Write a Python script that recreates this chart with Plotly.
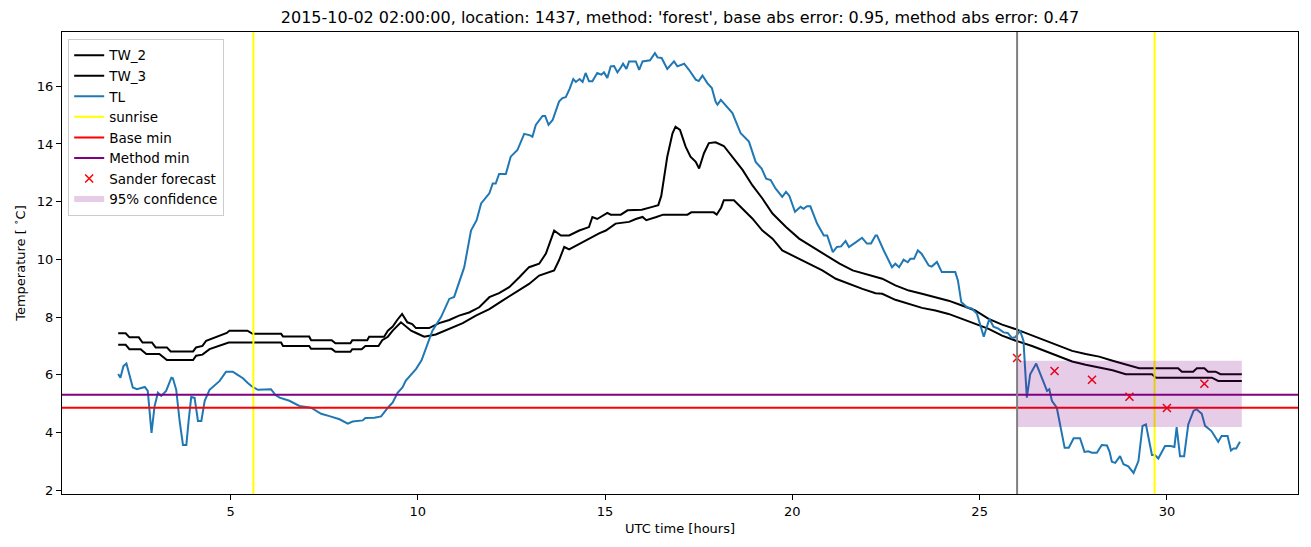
import plotly.graph_objects as go

# ---------------- data ----------------
TL_hours = [2.00, 2.06, 2.14, 2.22, 2.30, 2.39, 2.50, 2.62, 2.71, 2.79, 2.89, 2.97, 3.06, 3.15, 3.28, 3.42, 3.46, 3.55, 3.64, 3.73,
            3.82, 3.88, 3.95, 4.04, 4.13, 4.22, 4.31, 4.44, 4.58, 4.71, 4.88, 5.06, 5.19, 5.33, 5.46, 5.59, 5.73, 6.08, 6.20, 6.31,
            6.57, 6.84, 7.15, 7.42, 7.64, 7.91, 8.13, 8.26, 8.53, 8.60, 8.84, 9.02, 9.20, 9.33, 9.46, 9.59, 9.68, 9.85, 9.95, 10.10,
            10.22, 10.39, 10.62, 10.84, 10.97, 11.11, 11.24, 11.42, 11.57, 11.69, 11.91, 12.00, 12.08, 12.17, 12.35, 12.48, 12.66, 12.84, 13.00, 13.06,
            13.15, 13.33, 13.40, 13.49, 13.60, 13.77, 13.86, 13.95, 14.05, 14.15, 14.22, 14.32, 14.40, 14.48, 14.57, 14.66, 14.79, 14.90, 14.97, 15.06,
            15.15, 15.24, 15.33, 15.42, 15.48, 15.57, 15.64, 15.82, 15.91, 16.00, 16.20, 16.33, 16.40, 16.51, 16.66, 16.84, 16.93, 17.11, 17.24, 17.42,
            17.50, 17.60, 17.73, 17.85, 17.95, 18.00, 18.09, 18.40, 18.62, 18.84, 19.02, 19.18, 19.30, 19.42, 19.55, 19.73, 19.83, 19.92, 20.07, 20.22,
            20.30, 20.39, 20.48, 20.66, 20.84, 20.93, 21.08, 21.19, 21.30, 21.42, 21.51, 21.70, 21.86, 21.99, 22.10, 22.22, 22.26, 22.44, 22.66, 22.75,
            22.85, 22.97, 23.08, 23.15, 23.25, 23.35, 23.45, 23.64, 23.72, 23.86, 23.99, 24.35, 24.42, 24.51, 24.66, 24.80, 24.93, 25.11, 25.26, 25.37,
            25.50, 25.64, 25.75, 25.86, 25.95, 26.08, 26.17, 26.26, 26.35, 26.51, 26.66, 26.80, 26.86, 26.93, 27.06, 27.27, 27.38, 27.51, 27.68, 27.80,
            27.90, 28.00, 28.13, 28.26, 28.40, 28.47, 28.53, 28.62, 28.75, 28.84, 28.97, 29.11, 29.24, 29.35, 29.44, 29.60, 29.68, 29.77, 29.95, 30.10,
            30.20, 30.26, 30.35, 30.46, 30.57, 30.71, 30.79, 30.93, 31.02, 31.19, 31.37, 31.46, 31.62, 31.71, 31.78, 31.85, 31.95]
TL_values = [6.03, 5.90, 6.30, 6.39, 6.00, 5.56, 5.50, 5.56, 5.58, 5.44, 3.99, 4.90, 5.38, 5.27, 5.44, 5.90, 5.88, 5.48, 4.40, 3.57,
             3.57, 4.40, 5.23, 5.20, 4.40, 4.40, 5.10, 5.48, 5.65, 5.79, 6.11, 6.11, 6.00, 5.88, 5.72, 5.58, 5.48, 5.50, 5.30, 5.21,
             5.10, 4.92, 4.86, 4.65, 4.57, 4.46, 4.31, 4.38, 4.42, 4.50, 4.51, 4.56, 4.86, 5.04, 5.38, 5.56, 5.80, 6.05, 6.20, 6.50,
             6.95, 7.53, 8.00, 8.63, 8.70, 9.21, 9.73, 11.00, 11.36, 11.94, 12.29, 12.63, 12.63, 12.96, 12.96, 13.56, 13.79, 14.35, 14.30, 14.25,
             14.66, 14.97, 14.97, 14.66, 14.83, 15.47, 15.59, 15.62, 15.90, 16.25, 16.15, 16.25, 16.15, 16.46, 16.17, 16.17, 16.46, 16.40, 16.48, 16.29,
             16.69, 16.70, 16.48, 16.65, 16.78, 16.60, 16.86, 16.86, 16.57, 16.86, 16.90, 17.15, 17.00, 16.98, 16.60, 16.86, 16.69, 16.78, 16.57, 16.23,
             16.18, 16.37, 16.11, 15.94, 15.47, 15.36, 15.53, 15.07, 14.37, 14.08, 13.38, 13.15, 12.80, 12.75, 12.46, 12.17, 12.34, 12.20, 11.65, 11.82,
             11.75, 11.84, 11.84, 11.24, 10.83, 10.83, 10.25, 10.43, 10.45, 10.64, 10.43, 10.60, 10.75, 10.55, 10.55, 10.83, 10.83, 10.31, 9.73, 9.85,
             9.73, 9.99, 9.90, 10.02, 10.02, 10.31, 10.20, 9.79, 9.75, 9.91, 9.56, 9.56, 9.27, 8.52, 8.34, 8.29, 8.11, 7.32, 7.94, 7.67,
             7.60, 7.47, 7.45, 7.28, 7.30, 7.53, 7.18, 5.21, 6.02, 6.39, 5.90, 5.44, 5.50, 5.10, 4.86, 3.47, 3.47, 3.80, 3.80, 3.33,
             3.35, 3.30, 3.30, 3.57, 3.55, 3.33, 2.99, 2.95, 3.18, 2.90, 2.83, 2.60, 3.01, 4.23, 4.28, 3.22, 3.22, 3.10, 3.53, 3.53,
             3.50, 4.19, 3.18, 3.18, 4.28, 4.75, 4.81, 4.65, 4.23, 4.05, 3.68, 3.88, 3.88, 3.38, 3.45, 3.45, 3.68]

TW2_hours = [2.0, 2.2, 2.3, 2.55, 2.65, 2.9, 3.0, 3.3, 3.4, 4.0, 4.08, 4.25, 4.35, 4.5, 4.71, 4.9, 4.97, 5.45, 5.59, 6.35,
             6.4, 7.1, 7.15, 7.7, 7.8, 8.2, 8.25, 8.65, 8.7, 9.1, 9.2, 9.33, 9.45, 9.58, 9.72, 9.85, 9.95, 10.3, 10.57, 10.84,
             11.1, 11.37, 11.64, 11.91, 12.17, 12.44, 12.71, 12.97, 13.24, 13.42, 13.64, 13.82, 14.04, 14.31, 14.57, 14.66, 14.79, 15.06, 15.15, 15.42,
             15.6, 15.98, 16.26, 16.42, 16.5, 16.57, 16.66, 16.8, 16.88, 17.0, 17.15, 17.28, 17.42, 17.51, 17.64, 17.77, 17.95, 18.17, 18.4, 18.67,
             18.93, 19.2, 19.47, 19.83, 20.18, 20.54, 20.9, 21.26, 21.61, 21.97, 22.4, 22.75, 23.11, 23.46, 23.82, 24.17, 24.53, 24.88, 25.24, 25.6,
             25.95, 26.4, 26.76, 27.11, 27.47, 27.83, 28.19, 28.55, 28.9, 29.26, 30.3, 30.4, 30.7, 30.8, 31.0, 31.1, 31.3, 31.43, 32.0]
TW2_values = [7.44, 7.44, 7.3, 7.3, 7.12, 7.12, 6.95, 6.95, 6.81, 6.81, 6.95, 7.0, 7.18, 7.25, 7.36, 7.45, 7.53, 7.53, 7.42, 7.42,
              7.33, 7.33, 7.2, 7.2, 7.09, 7.09, 7.2, 7.2, 7.32, 7.32, 7.53, 7.67, 7.9, 8.11, 7.82, 7.76, 7.62, 7.62, 7.79, 7.9,
              8.05, 8.16, 8.34, 8.69, 8.83, 9.04, 9.38, 9.73, 9.85, 10.2, 11.0, 10.83, 10.83, 11.0, 11.12, 11.47, 11.4, 11.61, 11.55, 11.55,
              11.7, 11.72, 11.82, 11.88, 12.2, 12.75, 13.56, 14.37, 14.6, 14.49, 13.91, 13.56, 13.38, 13.15, 13.68, 14.03, 14.06, 13.93, 13.56, 13.1,
              12.57, 12.11, 11.59, 11.12, 10.72, 10.43, 10.14, 9.85, 9.62, 9.48, 9.33, 9.1, 8.92, 8.81, 8.69, 8.57, 8.4, 8.23, 7.94, 7.74,
              7.59, 7.36, 7.18, 7.0, 6.83, 6.72, 6.63, 6.49, 6.37, 6.23, 6.23, 6.11, 6.11, 6.23, 6.23, 6.11, 6.11, 6.02, 6.02]

TW3_hours = [2.0, 2.2, 2.3, 2.6, 2.75, 3.1, 3.3, 4.0, 4.08, 4.25, 4.44, 4.7, 4.88, 4.95, 6.35, 6.4, 7.1, 7.15, 7.7, 7.8,
             8.2, 8.25, 8.5, 8.6, 8.95, 9.05, 9.2, 9.33, 9.55, 9.82, 9.97, 10.17, 10.48, 10.84, 11.2, 11.55, 11.91, 12.26, 12.62, 12.97,
             13.24, 13.42, 13.64, 13.77, 13.91, 14.04, 14.24, 14.4, 14.57, 14.84, 15.02, 15.28, 15.64, 15.82, 16.0, 16.1, 16.37, 16.55, 17.2, 17.3,
             17.9, 17.98, 18.1, 18.17, 18.44, 18.67, 18.93, 19.2, 19.47, 19.73, 20.09, 20.45, 20.8, 21.16, 21.51, 21.87, 22.22, 22.4, 22.75, 23.11,
             23.46, 23.82, 24.17, 24.53, 24.88, 25.24, 25.6, 25.95, 26.4, 26.76, 27.11, 27.47, 27.83, 28.19, 28.55, 28.9, 29.6, 29.71, 31.2, 31.37,
             32.0]
TW3_values = [7.04, 7.04, 6.89, 6.89, 6.72, 6.72, 6.51, 6.51, 6.66, 6.7, 6.89, 7.0, 7.07, 7.12, 7.12, 7.0, 7.0, 6.9, 6.9, 6.8,
              6.8, 6.89, 6.89, 7.0, 7.0, 7.2, 7.32, 7.53, 7.82, 7.53, 7.44, 7.32, 7.4, 7.59, 7.79, 8.05, 8.28, 8.57, 8.86, 9.15,
              9.44, 9.52, 9.62, 9.97, 10.43, 10.35, 10.49, 10.6, 10.72, 10.9, 11.0, 11.24, 11.3, 11.4, 11.47, 11.36, 11.47, 11.55, 11.55, 11.63,
              11.63, 11.55, 11.8, 12.05, 12.05, 11.76, 11.42, 11.0, 10.72, 10.31, 10.08, 9.85, 9.62, 9.33, 9.15, 8.98, 8.83, 8.81, 8.6, 8.46,
              8.32, 8.23, 8.11, 7.94, 7.76, 7.59, 7.36, 7.19, 7.0, 6.81, 6.63, 6.46, 6.35, 6.25, 6.16, 6.02, 6.02, 5.9, 5.9, 5.79,
              5.79]

sunrise_hours = [5.61, 29.67]
base_min = 4.86
method_min = 5.31
forecast_start = 26.0

sander_hours = [26, 27, 28, 29, 30, 31]
sander_values = [6.58, 6.13, 5.83, 5.24, 4.85, 5.69]

conf_hours = [26.0, 32.0]
conf_low = 4.19
conf_high = 6.49

x_range = [0.5, 33.5]
y_range = [1.87, 17.88]

title_text = "2015-10-02 02:00:00, location: 1437, method: 'forest', base abs error: 0.95, method abs error: 0.47"

# ---------------- figure ----------------
fig = go.Figure()

fig.add_trace(go.Scatter(x=TW2_hours, y=TW2_values, mode="lines", name="TW_2",
                         line=dict(color="black", width=2)))
fig.add_trace(go.Scatter(x=TW3_hours, y=TW3_values, mode="lines", name="TW_3",
                         line=dict(color="black", width=2)))
fig.add_trace(go.Scatter(x=TL_hours, y=TL_values, mode="lines", name="TL",
                         line=dict(color="#1f77b4", width=2)))

sx, sy = [], []
for h in sunrise_hours:
    sx += [h, h, None]
    sy += [y_range[0], y_range[1], None]
fig.add_trace(go.Scatter(x=sx, y=sy, mode="lines", name="sunrise",
                         line=dict(color="#ffff00", width=2)))

fig.add_trace(go.Scatter(x=x_range, y=[base_min, base_min], mode="lines", name="Base min",
                         line=dict(color="#ff0000", width=2)))
fig.add_trace(go.Scatter(x=x_range, y=[method_min, method_min], mode="lines", name="Method min",
                         line=dict(color="#800080", width=2)))

fig.add_trace(go.Scatter(x=sander_hours, y=sander_values, mode="markers", name="Sander forecast",
                         marker=dict(symbol="x-thin-open", color="#ff0000", size=8,
                                     line=dict(color="#ff0000", width=1.5))))

fig.add_trace(go.Scatter(x=[conf_hours[0], conf_hours[1], conf_hours[1], conf_hours[0], conf_hours[0]],
                         y=[conf_low, conf_low, conf_high, conf_high, conf_low],
                         mode="none", fill="toself", name="95% confidence",
                         fillcolor="rgba(128,0,128,0.2)"))

fig.add_shape(type="line", xref="x", yref="paper", x0=forecast_start, x1=forecast_start, y0=0, y1=1,
              line=dict(color="#808080", width=2), layer="above")

font_family = "DejaVu Sans"
fig.update_layout(
    width=1311, height=547,
    margin=dict(l=62, r=13, t=32, b=53),
    paper_bgcolor="white", plot_bgcolor="white",
    font=dict(family=font_family, size=13, color="black"),
    title=dict(text=title_text, x=0.5, xref="paper", y=1 - 17 / 547, yref="container",
               xanchor="center", yanchor="middle", font=dict(size=16, color="black")),
    legend=dict(x=0.005, y=0.985, xanchor="left", yanchor="top",
                bgcolor="rgba(255,255,255,0.8)", bordercolor="#cccccc", borderwidth=1,
                font=dict(size=13.5), tracegroupgap=0),
    showlegend=True,
)
fig.update_xaxes(range=x_range, showgrid=False, zeroline=False, showline=True, linecolor="black",
                 linewidth=1, mirror=True, ticks="outside", ticklen=5, tickcolor="black",
                 tickvals=[5, 10, 15, 20, 25, 30],
                 title=dict(text="UTC time [hours]", standoff=6, font=dict(size=13)),
                 tickfont=dict(size=13))
fig.update_yaxes(range=y_range, showgrid=False, zeroline=False, showline=True, linecolor="black",
                 linewidth=1, mirror=True, ticks="outside", ticklen=5, tickcolor="black",
                 tickvals=[2, 4, 6, 8, 10, 12, 14, 16],
                 title=dict(text="Temperature [ <sup>∘</sup>C]", standoff=8, font=dict(size=13)),
                 tickfont=dict(size=13))

fig.write_html("out.html")
